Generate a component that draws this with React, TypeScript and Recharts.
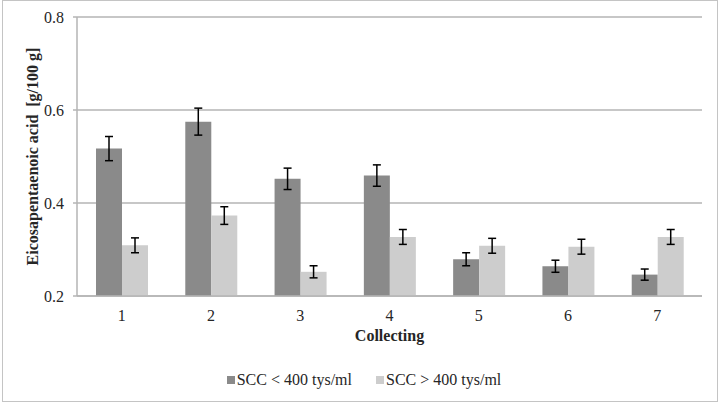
import React from 'react';
import { BarChart, Bar, XAxis, YAxis, CartesianGrid, Legend, ErrorBar, Label } from 'recharts';

const categories = ['1', '2', '3', '4', '5', '6', '7'];
const sccLow = [0.517, 0.575, 0.452, 0.459, 0.279, 0.264, 0.246];
const sccLowErr = [0.026, 0.029, 0.023, 0.023, 0.014, 0.013, 0.012];
const sccHigh = [0.309, 0.373, 0.252, 0.327, 0.308, 0.306, 0.327];
const sccHighErr = [0.016, 0.019, 0.013, 0.016, 0.016, 0.016, 0.016];
const yTicks = [0.2, 0.4, 0.6, 0.8];
const seriesNames = ['SCC < 400 tys/ml', 'SCC > 400 tys/ml'];

const data = categories.map((c, i) => ({
  name: c,
  low: sccLow[i],
  lowErr: sccLowErr[i],
  high: sccHigh[i],
  highErr: sccHighErr[i],
}));

const FONT = '"Liberation Serif", "Times New Roman", serif';
const DARK = '#8a8a8a';
const LIGHT = '#cdcdcd';
const GRID = '#b4b4b4';
const TEXT = '#262626';

const YLabel = (props: any) => {
  const vb = props.viewBox || {};
  const cx = 32;
  const cy = vb.y + vb.height / 2;
  return (
    <text
      x={cx}
      y={cy}
      transform={`rotate(-90 ${cx} ${cy})`}
      textAnchor="middle"
      dominantBaseline="central"
      fontFamily={FONT}
      fontWeight="bold"
      fontSize={16}
      fill={TEXT}
      style={{ whiteSpace: 'pre' }}
    >
      {'Eicosapentaenoic acid\u00a0 [g/100 g]'}
    </text>
  );
};

const LegendContent = () => (
  <div
    style={{
      width: 720,
      display: 'flex',
      justifyContent: 'center',
      alignItems: 'center',
      height: 24,
      fontFamily: FONT,
      fontSize: 16,
      color: TEXT,
      paddingLeft: 8,
      boxSizing: 'border-box',
    }}
  >
    {seriesNames.map((n, i) => (
      <div key={n} style={{ display: 'flex', alignItems: 'center', marginRight: i === 0 ? 24 : 0 }}>
        <span style={{ display: 'inline-block', width: 8, height: 8, background: i === 0 ? DARK : LIGHT, marginRight: 2 }} />
        <span style={{ whiteSpace: 'pre' }}>{n}</span>
      </div>
    ))}
  </div>
);

export default function App() {
  return (
    <div style={{ position: 'absolute', left: 0, top: 0, width: 720, height: 404, background: '#fff' }}>
      <BarChart
        width={720}
        height={404}
        data={data}
        margin={{ top: 17, right: 18, left: 0, bottom: 12 }}
        barCategoryGap={19}
        barGap={0}
      >
        <CartesianGrid vertical={false} stroke={GRID} strokeWidth={1.5} />
        <XAxis
          dataKey="name"
          height={72}
          axisLine={{ stroke: GRID, strokeWidth: 1.5 }}
          tickLine={false}
          tickMargin={8}
          tick={{ fill: TEXT, fontFamily: FONT, fontSize: 16 }}
        >
          <Label
            value="Collecting"
            position="insideTop"
            offset={34}
            style={{ fontFamily: FONT, fontWeight: 'bold', fontSize: 16, fill: TEXT }}
          />
        </XAxis>
        <YAxis
          width={77}
          domain={[0.2, 0.8]}
          ticks={yTicks}
          allowDataOverflow
          axisLine={{ stroke: GRID, strokeWidth: 1.5 }}
          tickLine={{ stroke: GRID, strokeWidth: 1.5 }}
          tickSize={4}
          tickMargin={9}
          tickFormatter={(v: number) => v.toFixed(1)}
          tick={{ fill: TEXT, fontFamily: FONT, fontSize: 16 }}
        >
          <Label content={<YLabel />} />
        </YAxis>
        <Legend verticalAlign="bottom" height={24} content={<LegendContent />} wrapperStyle={{ left: 0, width: 720 }} />
        <Bar dataKey="low" name={seriesNames[0]} fill={DARK} isAnimationActive={false}>
          <ErrorBar dataKey="lowErr" width={4} stroke="#000" strokeWidth={1.5} />
        </Bar>
        <Bar dataKey="high" name={seriesNames[1]} fill={LIGHT} isAnimationActive={false}>
          <ErrorBar dataKey="highErr" width={4} stroke="#000" strokeWidth={1.5} />
        </Bar>
      </BarChart>
      <div
        style={{
          position: 'absolute',
          left: 2,
          top: 0,
          width: 716,
          height: 402,
          border: '1px solid #c4c4c4',
          boxSizing: 'border-box',
          pointerEvents: 'none',
        }}
      />
    </div>
  );
}
